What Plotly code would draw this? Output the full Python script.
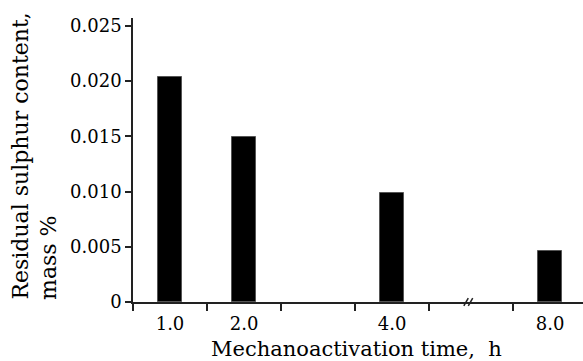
import plotly.graph_objects as go

# ---- data ----
time_labels = ["1.0", "2.0", "4.0", "8.0"]
sulphur = [0.0204, 0.0149, 0.0099, 0.0046]
y_ticks = [0, 0.005, 0.010, 0.015, 0.020, 0.025]
y_tick_text = ["0", "0.005", "0.010", "0.015", "0.020", "0.025"]

# ---- layout of the broken category axis (slot units) ----
slot_centers = [0.5, 1.5, 3.5, 5.635]
slot_edges = [0, 1, 2, 3, 4, 5.135]
break_pos = 4.53

FONT = "DejaVu Serif"
AX = "#222"

fig = go.Figure()
fig.add_trace(go.Bar(
    x=slot_centers, y=sulphur, width=0.325,
    marker=dict(color="black", line=dict(color="#555", width=1)),
    hoverinfo="y",
))

fig.update_layout(
    width=583, height=361,
    margin=dict(l=133, r=0, t=18, b=59),
    plot_bgcolor="white", paper_bgcolor="white",
    showlegend=False,
    font=dict(family=FONT, size=18, color="black"),
    bargap=0,
)
fig.update_xaxes(
    range=[0, 6.08],
    tickmode="array", tickvals=slot_centers, ticktext=time_labels,
    ticks="outside", ticklen=5, tickcolor="rgba(0,0,0,0)",
    showgrid=False, zeroline=False,
    showline=True, linecolor=AX, linewidth=1.5,
    minor=dict(tickmode="array", tickvals=slot_edges, ticks="outside",
               ticklen=7, tickwidth=1.5, tickcolor=AX, showgrid=False),
    tickfont=dict(family=FONT, size=18),
)
fig.update_yaxes(
    range=[0, 0.02572],
    tickmode="array", tickvals=y_ticks, ticktext=y_tick_text,
    ticks="outside", ticklen=6, tickwidth=1.5, tickcolor=AX,
    showgrid=False, zeroline=False,
    showline=True, linecolor=AX, linewidth=1.5,
    tickfont=dict(family=FONT, size=18),
)

# axis break marks
for dx in (-0.03, 0.03):
    fig.add_shape(type="line", xref="x", yref="paper",
                  x0=break_pos + dx - 0.03, x1=break_pos + dx + 0.03,
                  y0=-0.014, y1=0.014, line=dict(color=AX, width=1.5))

# x-axis title
fig.add_annotation(
    text="Mechanoactivation time,  h", xref="paper", yref="paper",
    x=0.4956, y=-0.164, xanchor="center", yanchor="middle", showarrow=False,
    font=dict(family=FONT, size=21),
)

# y-axis title: two left-aligned rotated lines
for txt, xp in (("Residual sulphur content,", -0.251), ("mass %", -0.189)):
    fig.add_annotation(
        text=txt, xref="paper", yref="paper", x=xp, y=0.0,
        xanchor="center", yanchor="bottom", textangle=-90, showarrow=False,
        font=dict(family=FONT, size=22),
    )

fig.write_html("out.html", config={"displayModeBar": False},
               post_script="document.body.style.margin='0';")
